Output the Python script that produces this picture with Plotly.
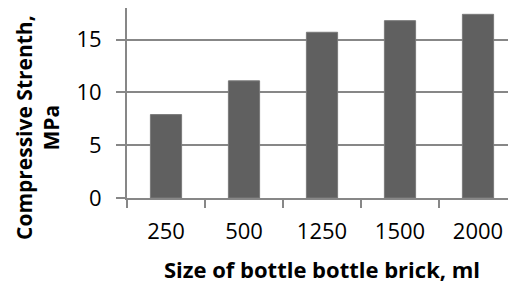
import plotly.graph_objects as go

sizes = ["250", "500", "1250", "1500", "2000"]
strength = [7.9, 11.1, 15.7, 16.8, 17.4]
y_ticks = [0, 5, 10, 15]

FONT = "Open Sans"
GRID = "#878787"

# page has an 8px body margin; margins compensate for it
L, R, T, B = 119, 7, 0, 97
PW = 516 - L - R
PH = 287 - T - B

fig = go.Figure(go.Bar(
    x=sizes, y=strength, width=0.4,
    marker=dict(color="#606060", line=dict(color="#7a7a7a", width=1)),
))

fig.update_layout(
    width=516, height=287,
    margin=dict(l=L, r=R, t=T, b=B),
    paper_bgcolor="white", plot_bgcolor="white",
    showlegend=False,
    font=dict(family=FONT, size=22, color="black"),
    bargap=0.6,
)
fig.update_xaxes(
    type="category", tickson="boundaries", ticks="outside", ticklen=8,
    tickcolor=GRID, tickwidth=2, showline=True, linecolor=GRID, linewidth=2,
    showgrid=False, tickfont=dict(family=FONT, size=22), automargin=False,
    ticklabelstandoff=13,
    title=dict(text="<b>Size of bottle bottle brick, ml</b>", standoff=18,
               font=dict(family=FONT, size=22)),
)
fig.update_yaxes(
    range=[0, 18], tickvals=y_ticks, ticks="outside", ticklen=9,
    tickcolor=GRID, tickwidth=2, showline=True, linecolor=GRID, linewidth=2,
    showgrid=True, gridcolor=GRID, gridwidth=2, zeroline=False, automargin=False,
    tickfont=dict(family=FONT, size=22), ticklabelstandoff=10,
)
fig.add_annotation(
    text="<b>Compressive Strenth,<br>MPa</b>", textangle=-90,
    xref="paper", yref="paper", x=(29 - L) / PW, y=(PH - 120) / PH,
    xanchor="center", yanchor="middle", showarrow=False,
    font=dict(family=FONT, size=21, color="black"),
)

fig.write_html("out.html")
